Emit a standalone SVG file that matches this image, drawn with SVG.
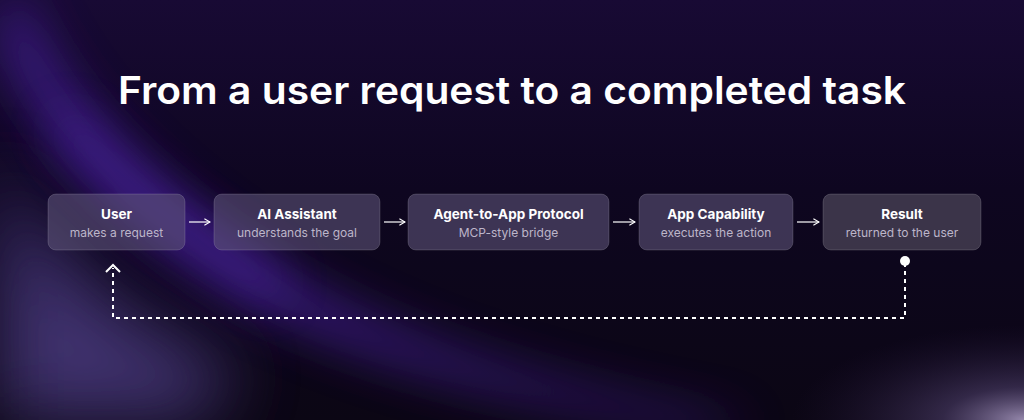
<svg xmlns="http://www.w3.org/2000/svg" width="1024" height="420" viewBox="0 0 1024 420">
<defs>
<linearGradient id="bg" x1="0" y1="0" x2="0" y2="1">
<stop offset="0" stop-color="#180a34"/>
<stop offset="0.45" stop-color="#0e0620"/>
<stop offset="1" stop-color="#0b0614"/>
</linearGradient>
<radialGradient id="glowTop" cx="0.5" cy="0" r="0.5">
<stop offset="0" stop-color="#2c0f60" stop-opacity="0.8"/>
<stop offset="1" stop-color="#2c0f60" stop-opacity="0"/>
</radialGradient>
<radialGradient id="glowBR" cx="1" cy="1" r="0.5">
<stop offset="0" stop-color="#a496bc" stop-opacity="0.9"/>
<stop offset="0.35" stop-color="#5a4a7a" stop-opacity="0.5"/>
<stop offset="1" stop-color="#2a1a40" stop-opacity="0"/>
</radialGradient>
<filter id="blur" x="-50%" y="-50%" width="200%" height="200%"><feGaussianBlur stdDeviation="24"/></filter>
<filter id="blur2" x="-50%" y="-50%" width="200%" height="200%"><feGaussianBlur stdDeviation="35"/></filter>
<marker id="arr" viewBox="0 0 10 10" refX="9" refY="5" markerWidth="8" markerHeight="8" markerUnits="userSpaceOnUse" orient="auto">
<path d="M2,1 L9,5 L2,9" fill="none" stroke="#ffffff" stroke-width="1.4"/>
</marker>
<style>
.box{fill:#5e5478;fill-opacity:0.6;stroke:#ffffff;stroke-opacity:0.15;stroke-width:1}
.t{font-family:Inter,"Liberation Sans",sans-serif;font-weight:700;font-size:13.5px;fill:#ffffff;text-anchor:middle}
.s{font-family:Inter,"Liberation Sans",sans-serif;font-weight:400;font-size:12px;fill:#bdb6ca;text-anchor:middle}
.flow{stroke:#ffffff;stroke-width:1.2;fill:none}
.loop{stroke:#ffffff;stroke-width:2;fill:none;stroke-dasharray:4 4}
</style>
</defs>
<rect width="1024" height="420" fill="url(#bg)"/>
<ellipse cx="560" cy="0" rx="420" ry="130" fill="url(#glowTop)"/>
<path d="M0,150 C30,250 120,320 240,370 L200,420 L0,420 Z" fill="#4e3c84" opacity="0.8" filter="url(#blur2)"/>
<path d="M25,0 C70,110 170,200 300,280 C420,350 580,395 760,425 L690,430 C540,405 380,370 260,310 C140,245 45,150 0,50 L0,0 Z" fill="#4a22a0" opacity="0.7" filter="url(#blur)"/>
<path d="M60,120 C120,190 200,240 280,290" stroke="#5a2ac0" stroke-width="30" fill="none" opacity="0.4" filter="url(#blur)"/>
<rect x="560" y="230" width="464" height="190" fill="url(#glowBR)"/>
<text x="512" y="104" font-family="Inter,'Liberation Sans',sans-serif" font-weight="600" font-size="38" fill="#ffffff" text-anchor="middle" textLength="788" lengthAdjust="spacingAndGlyphs">From a user request to a completed task</text>
<g id="connectors">
<line class="flow" x1="189" y1="222" x2="210" y2="222" marker-end="url(#arr)"/>
<line class="flow" x1="384" y1="222" x2="405" y2="222" marker-end="url(#arr)"/>
<line class="flow" x1="613" y1="222" x2="635" y2="222" marker-end="url(#arr)"/>
<line class="flow" x1="797" y1="222" x2="819" y2="222" marker-end="url(#arr)"/>
<path class="loop" d="M905,263 L905,318 L113,318 L113,268"/>
<path d="M106,272 L113,265 L120,272" stroke="#ffffff" stroke-width="2" fill="none"/>
<circle cx="905" cy="261" r="5" fill="#ffffff"/>
</g>
<g id="node-user">
<rect class="box" x="48" y="194" width="137" height="56" rx="8"/>
<text class="t" x="116.5" y="219">User</text>
<text class="s" x="116.5" y="237">makes a request</text>
</g>
<g id="node-assistant">
<rect class="box" x="214" y="194" width="166" height="56" rx="8"/>
<text class="t" x="297" y="219">AI Assistant</text>
<text class="s" x="297" y="237">understands the goal</text>
</g>
<g id="node-protocol">
<rect class="box" x="408" y="194" width="201" height="56" rx="8"/>
<text class="t" x="508.5" y="219">Agent-to-App Protocol</text>
<text class="s" x="508.5" y="237">MCP-style bridge</text>
</g>
<g id="node-capability">
<rect class="box" x="639" y="194" width="154" height="56" rx="8"/>
<text class="t" x="716" y="219">App Capability</text>
<text class="s" x="716" y="237">executes the action</text>
</g>
<g id="node-result">
<rect class="box" x="823" y="194" width="158" height="56" rx="8" style="fill:#5a5466"/>
<text class="t" x="902" y="219">Result</text>
<text class="s" x="902" y="237">returned to the user</text>
</g>
</svg>
